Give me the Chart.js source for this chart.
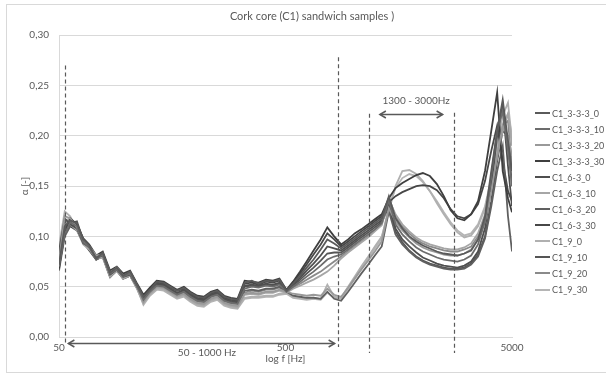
<!DOCTYPE html>
<html>
<head>
<meta charset="utf-8">
<script src="https://cdn.jsdelivr.net/npm/chart.js@4.4.1/dist/chart.umd.min.js"></script>
<style>
    html, body { margin: 0; padding: 0; background: #fff; overflow: hidden; width: 606px; height: 376px; }
    #wrap { position: absolute; left: 0; top: 0; width: 624px; height: 376px; }
    #frame { position: absolute; left: 6px; top: 4px; width: 700px; height: 367px; border: 1px solid #d9d9d9; pointer-events: none; }
    #legend { position: absolute; left: 535px; top: 105px; font: 9px Lato, "Open Sans", sans-serif; color: #595959; }
    .item { height: 16.06px; display: flex; align-items: center; white-space: nowrap; }
    .swatch { width: 15px; height: 2px; margin-right: 2px; }
</style>
</head>
<body>
<div id="wrap"><canvas id="chart" width="624" height="376"></canvas></div>
<div id="frame"></div>
<div id="legend"></div>
<script>
// frequency points (Hz)
const freqs = [50, 53, 56, 60, 64, 68, 73, 78, 84, 90, 96, 103, 110, 118, 126, 135, 145, 155, 166, 178,
    190, 204, 218, 234, 250, 268, 287, 307, 330, 355, 380, 410, 440, 470, 505, 540, 580, 620, 665, 715,
    765, 820, 880, 945, 1010, 1080, 1160, 1240, 1330, 1430, 1530, 1640, 1760, 1890, 2020, 2170, 2330, 2500, 2680, 2870,
    3080, 3300, 3540, 3800, 4050, 4300, 4550, 4800, 5000];

const seriesNames = ['C1_3-3-3_0', 'C1_3-3-3_10', 'C1_3-3-3_20', 'C1_3-3-3_30', 'C1_6-3_0', 'C1_6-3_10',
    'C1_6-3_20', 'C1_6-3_30', 'C1_9_0', 'C1_9_10', 'C1_9_20', 'C1_9_30'];

// absorption coefficient per sample
const c1_333_0 = [.072, .110, .116, .113, .097, .091, .078, .084, .064, .069, .061, .065, .053,
    .040, .047, .055, .054, .050, .046, .049, .044, .040, .039, .044, .046, .040, .038, .037,
    .054, .056, .053, .056, .055, .057, .046,
    .053, .061, .069, .077, .087, .097, .093, .088, .093, .098, .103, .108, .113, .118,
    .140, .118, .108, .100, .095, .091, .088, .085, .083, .082, .081, .083, .086, .097, .120, .165, .205, .236, .195, .165];
const c1_333_10 = [.070, .102, .114, .110, .094, .089, .077, .082, .063, .067, .060, .063, .051,
    .037, .045, .051, .050, .046, .042, .045, .040, .036, .035, .040, .042, .036, .034, .033,
    .048, .050, .049, .051, .050, .052, .045,
    .050, .055, .060, .065, .071, .077, .080, .082, .087, .092, .097, .102, .107, .113,
    .136, .112, .102, .095, .089, .085, .082, .079, .077, .076, .075, .077, .081, .092, .115, .160, .205, .225, .185, .150];
const c1_333_20 = [.076, .120, .118, .109, .096, .090, .081, .082, .064, .069, .061, .064, .052,
    .035, .044, .050, .049, .045, .041, .043, .038, .034, .033, .038, .040, .034, .032, .031,
    .043, .044, .043, .045, .045, .047, .045,
    .043, .042, .041, .042, .041, .048, .042, .040, .049, .058, .067, .076, .085, .095,
    .128, .115, .106, .099, .093, .089, .086, .084, .082, .081, .081, .083, .087, .097, .115, .145, .180, .210, .200, .180];
const c1_333_30 = [.068, .104, .118, .112, .098, .092, .081, .085, .066, .070, .063, .066, .054,
    .042, .049, .056, .055, .051, .047, .050, .045, .041, .040, .045, .047, .041, .039, .038,
    .056, .055, .054, .057, .056, .058, .047,
    .055, .065, .075, .086, .097, .109, .100, .092, .097, .103, .107, .112, .117, .122,
    .138, .148, .153, .157, .161, .163, .160, .152, .140, .126, .118, .116, .122, .135, .165, .205, .243, .165, .138, .124];
const c1_63_0 = [.085, .118, .112, .108, .093, .090, .080, .081, .062, .067, .060, .062, .051,
    .039, .047, .053, .052, .048, .044, .047, .042, .038, .037, .042, .044, .038, .036, .035,
    .051, .052, .051, .053, .052, .054, .045,
    .052, .059, .066, .073, .081, .090, .088, .086, .091, .096, .101, .106, .111, .116,
    .132, .108, .097, .090, .084, .079, .076, .073, .071, .070, .069, .071, .075, .085, .108, .150, .200, .230, .170, .130];
const c1_63_10 = [.088, .115, .112, .106, .092, .087, .078, .079, .060, .066, .058, .061, .049,
    .034, .043, .049, .048, .044, .040, .042, .037, .033, .032, .037, .039, .033, .031, .030,
    .042, .043, .042, .044, .044, .046, .044,
    .048, .051, .054, .057, .061, .065, .071, .078, .084, .089, .094, .099, .105, .111,
    .137, .122, .112, .105, .099, .095, .092, .090, .088, .087, .087, .089, .093, .103, .122, .150, .180, .205, .222, .190];
const c1_63_20 = [.066, .100, .110, .112, .095, .089, .080, .082, .062, .068, .060, .063, .051,
    .036, .045, .051, .050, .046, .042, .045, .040, .036, .035, .040, .042, .036, .034, .033,
    .046, .047, .046, .048, .048, .050, .045,
    .041, .040, .039, .039, .038, .045, .038, .036, .045, .054, .063, .072, .081, .090,
    .125, .102, .092, .085, .079, .075, .072, .070, .068, .067, .067, .068, .072, .080, .098, .130, .165, .190, .120, .085];
const c1_63_30 = [.080, .112, .110, .106, .094, .086, .077, .080, .060, .066, .058, .061, .050,
    .040, .048, .054, .053, .049, .046, .048, .043, .039, .038, .043, .045, .039, .037, .036,
    .053, .054, .052, .055, .054, .056, .046,
    .054, .063, .072, .082, .092, .103, .097, .090, .095, .100, .105, .110, .115, .120,
    .134, .140, .144, .147, .150, .151, .150, .146, .138, .127, .120, .118, .122, .132, .155, .185, .210, .175, .145, .135];
const c1_9_0 = [.090, .125, .120, .107, .093, .087, .078, .079, .059, .066, .058, .061, .049,
    .033, .042, .048, .047, .043, .039, .041, .036, .032, .031, .036, .038, .032, .030, .029,
    .039, .040, .040, .041, .041, .043, .044,
    .040, .039, .038, .039, .038, .052, .040, .039, .050, .060, .070, .080, .090, .100,
    .125, .150, .165, .166, .162, .155, .145, .133, .122, .112, .104, .099, .101, .110, .128, .155, .190, .220, .233, .195];
const c1_9_10 = [.078, .106, .113, .115, .096, .088, .079, .083, .063, .068, .059, .063, .050,
    .037, .046, .052, .051, .047, .043, .046, .041, .037, .036, .041, .043, .037, .035, .034,
    .050, .051, .050, .052, .051, .053, .045,
    .051, .057, .063, .069, .076, .083, .084, .084, .089, .094, .099, .104, .109, .114,
    .130, .105, .094, .086, .080, .076, .073, .071, .069, .068, .068, .069, .073, .082, .100, .135, .175, .205, .200, .150];
const c1_9_20 = [.082, .110, .116, .108, .094, .088, .078, .080, .061, .067, .059, .062, .050,
    .035, .044, .050, .049, .045, .041, .043, .038, .034, .033, .038, .040, .034, .032, .031,
    .044, .046, .045, .047, .047, .049, .045,
    .049, .053, .057, .061, .065, .070, .075, .080, .085, .090, .095, .100, .106, .112,
    .138, .120, .110, .103, .097, .093, .090, .088, .086, .085, .085, .087, .090, .100, .118, .150, .185, .210, .215, .170];
const c1_9_30 = [.080, .114, .119, .108, .094, .087, .077, .080, .060, .066, .058, .061, .050,
    .032, .041, .047, .046, .042, .038, .040, .035, .031, .030, .035, .037, .031, .029, .028,
    .038, .039, .039, .040, .040, .042, .043,
    .039, .038, .037, .038, .037, .044, .039, .038, .048, .058, .068, .078, .088, .098,
    .130, .148, .158, .162, .160, .154, .145, .135, .124, .114, .106, .101, .103, .112, .130, .158, .188, .212, .222, .200];

const seriesValues = [c1_333_0, c1_333_10, c1_333_20, c1_333_30, c1_63_0, c1_63_10,
    c1_63_20, c1_63_30, c1_9_0, c1_9_10, c1_9_20, c1_9_30];
const seriesColors = ['#5a5a5a', '#6c6c6c', '#999999', '#3f3f3f', '#4f4f4f', '#a6a6a6',
    '#606060', '#474747', '#b0b0b0', '#555555', '#8a8a8a', '#b5b5b5'];

// axis ticks
const xTicks = [50, 500, 5000];
const xTickLabels = ['50', '500', '5000'];

// dashed frequency markers
const markerFreqs = [53, 852, 1168, 2774];
const markerTop = [0.270, 0.278, 0.222, 0.223];
const markerBottom = [-0.006, -0.010, -0.016, -0.016];

// double arrows with their labels
const bandFrom = [55, 1305];
const bandTo = [824, 2470];
const bandLevel = [-0.006, 0.222];
const bandLabels = ['50 - 1000 Hz', '1300 - 3000Hz'];
const bandLabelFreq = [225, 1887];
const bandLabelLevel = [-0.016, 0.235];

const ink = '#595959';
const gridColor = '#d9d9d9';

Chart.defaults.font.family = 'Lato, "Open Sans", sans-serif';
Chart.defaults.font.size = 10;
Chart.defaults.color = ink;

function drawArrowHead(ctx, x, y, dir) {
    ctx.beginPath();
    ctx.moveTo(x + dir * 6, y - 3.5);
    ctx.lineTo(x, y);
    ctx.lineTo(x + dir * 6, y + 3.5);
    ctx.stroke();
}

// dashed guide lines, arrows and band labels
const guidePlugin = {
    id: 'guides',
    afterDatasetsDraw(chart) {
        const { ctx, scales: { x, y } } = chart;
        ctx.save();
        ctx.strokeStyle = ink;
        ctx.lineWidth = 1.2;
        ctx.setLineDash([4, 3]);
        markerFreqs.forEach((f, i) => {
            const px = Math.round(x.getPixelForValue(f)) + 0.5;
            ctx.beginPath();
            ctx.moveTo(px, y.getPixelForValue(markerTop[i]));
            ctx.lineTo(px, y.getPixelForValue(markerBottom[i]));
            ctx.stroke();
        });
        ctx.setLineDash([]);
        ctx.lineWidth = 1.5;
        bandFrom.forEach((f, i) => {
            const x1 = x.getPixelForValue(f);
            const x2 = x.getPixelForValue(bandTo[i]);
            const py = Math.round(y.getPixelForValue(bandLevel[i])) + 0.5;
            ctx.beginPath();
            ctx.moveTo(x1, py);
            ctx.lineTo(x2, py);
            ctx.stroke();
            drawArrowHead(ctx, x1, py, 1);
            drawArrowHead(ctx, x2, py, -1);
        });
        ctx.fillStyle = ink;
        ctx.font = '10px Lato, "Open Sans", sans-serif';
        ctx.textAlign = 'center';
        ctx.textBaseline = 'middle';
        bandLabels.forEach((t, i) => {
            ctx.fillText(t, x.getPixelForValue(bandLabelFreq[i]), y.getPixelForValue(bandLabelLevel[i]));
        });
        ctx.restore();
    }
};

const chart = new Chart(document.getElementById('chart'), {
    type: 'line',
    data: {
        datasets: seriesNames.map((name, s) => ({
            label: name,
            data: freqs.map((f, i) => ({ x: f, y: seriesValues[s][i] })),
            borderColor: seriesColors[s],
            backgroundColor: seriesColors[s],
            borderWidth: 1.8,
            pointRadius: 0,
            tension: 0
        }))
    },
    options: {
        responsive: false,
        animation: false,
        layout: { padding: 0 },
        plugins: {
            legend: { display: false },
            tooltip: { enabled: false },
            title: {
                display: true,
                text: 'Cork core (C1) sandwich samples )',
                color: ink,
                font: { size: 11, weight: 'normal' },
                padding: { top: 10, bottom: 12 }
            }
        },
        scales: {
            x: {
                type: 'logarithmic',
                min: 50,
                max: 5000,
                afterBuildTicks: scale => { scale.ticks = xTicks.map(v => ({ value: v })); },
                afterFit: scale => { scale.height = 39; },
                ticks: {
                    autoSkip: false,
                    maxRotation: 0,
                    padding: 5,
                    color: ink,
                    callback: (value, index) => xTickLabels[index]
                },
                grid: { drawOnChartArea: false, drawTicks: false },
                border: { color: gridColor },
                title: { display: true, text: 'log f [Hz]', color: ink, padding: { bottom: 11 } }
            },
            y: {
                min: 0,
                max: 0.3,
                afterFit: scale => { scale.width = 59; },
                ticks: {
                    stepSize: 0.05,
                    padding: 10,
                    color: ink,
                    callback: v => v.toFixed(2).replace('.', ',')
                },
                grid: { color: gridColor, drawTicks: false },
                border: { color: gridColor },
                title: { display: true, text: 'α [-]', color: ink, padding: { top: 19 } }
            },
            legendSpace: {
                type: 'linear',
                axis: 'y',
                position: 'right',
                display: true,
                ticks: { display: false },
                grid: { display: false },
                border: { display: false },
                afterFit: scale => { scale.width = 112; }
            }
        }
    },
    plugins: [guidePlugin]
});

// legend built from the datasets
const legendBox = document.getElementById('legend');
chart.data.datasets.forEach(ds => {
    const item = document.createElement('div');
    item.className = 'item';
    const swatch = document.createElement('div');
    swatch.className = 'swatch';
    swatch.style.background = ds.borderColor;
    const label = document.createElement('span');
    label.textContent = ds.label;
    item.appendChild(swatch);
    item.appendChild(label);
    legendBox.appendChild(item);
});
</script>
</body>
</html>
